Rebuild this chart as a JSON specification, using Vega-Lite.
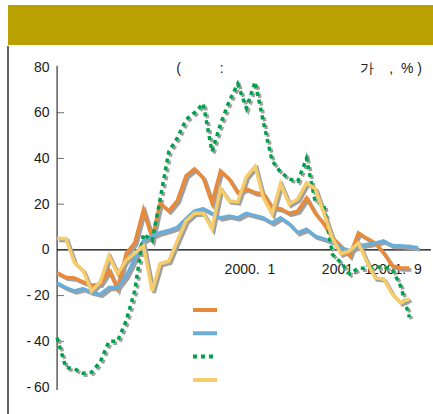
{
  "$schema": "https://vega.github.io/schema/vega-lite/v6.json",
  "background": "white",
  "padding": {"left": 7, "top": 5, "right": 0, "bottom": 0},
  "spacing": 0,
  "config": {"view": {"stroke": null}, "font": "Liberation Sans"},
  "vconcat": [
    {
      "width": 426,
      "height": 40,
      "view": {"fill": "#B8A100", "stroke": null},
      "data": {"values": [{}]},
      "mark": {"type": "text"},
      "encoding": {"text": {"value": ""}}
    },
    {
      "width": 426,
      "height": 369,
      "title": {
        "text": "(\u00a0\u00a0\u00a0\u00a0\u00a0\u00a0\u00a0\u00a0\u00a0\u00a0:\u00a0\u00a0\u00a0\u00a0\u00a0\u00a0\u00a0\u00a0\u00a0\u00a0\u00a0\u00a0\u00a0\u00a0\u00a0\u00a0\u00a0\u00a0\u00a0\u00a0\u00a0\u00a0\u00a0\u00a0\u00a0\u00a0\u00a0\u00a0\u00a0\u00a0\u00a0\u00a0\u00a0\u00a0\u00a0가\u00a0\u00a0\u00a0\u00a0,\u00a0\u00a0%\u00a0)",
        "anchor": "end",
        "frame": "group",
        "orient": "top",
        "offset": -42,
        "baseline": "alphabetic",
        "fontSize": 14,
        "fontWeight": "normal",
        "color": "#1a1a1a",
        "dx": -12
      },
      "data": {"values": [
        {"m":"1998-03-01","s":"A","v":-10},{"m":"1998-04-01","s":"A","v":-12},{"m":"1998-05-01","s":"A","v":-12.3},{"m":"1998-06-01","s":"A","v":-14},{"m":"1998-07-01","s":"A","v":-15.5},{"m":"1998-08-01","s":"A","v":-15},{"m":"1998-09-01","s":"A","v":-9},{"m":"1998-10-01","s":"A","v":-17},{"m":"1998-11-01","s":"A","v":-1.5},{"m":"1998-12-01","s":"A","v":3},
        {"m":"1999-01-01","s":"A","v":17.5},{"m":"1999-02-01","s":"A","v":5},{"m":"1999-03-01","s":"A","v":20.5},{"m":"1999-04-01","s":"A","v":17},{"m":"1999-05-01","s":"A","v":21.5},{"m":"1999-06-01","s":"A","v":32.4},{"m":"1999-07-01","s":"A","v":35.4},{"m":"1999-08-01","s":"A","v":31.5},{"m":"1999-09-01","s":"A","v":20.5},{"m":"1999-10-01","s":"A","v":34.5},{"m":"1999-11-01","s":"A","v":31},{"m":"1999-12-01","s":"A","v":25},
        {"m":"2000-01-01","s":"A","v":26.7},{"m":"2000-02-01","s":"A","v":25},{"m":"2000-03-01","s":"A","v":24.5},{"m":"2000-04-01","s":"A","v":18.4},{"m":"2000-05-01","s":"A","v":18},{"m":"2000-06-01","s":"A","v":16},{"m":"2000-07-01","s":"A","v":17},{"m":"2000-08-01","s":"A","v":22.7},{"m":"2000-09-01","s":"A","v":16},{"m":"2000-10-01","s":"A","v":11.4},{"m":"2000-11-01","s":"A","v":5.2},{"m":"2000-12-01","s":"A","v":1.75},
        {"m":"2001-01-01","s":"A","v":-2.6},{"m":"2001-02-01","s":"A","v":7.4},{"m":"2001-03-01","s":"A","v":5.2},{"m":"2001-04-01","s":"A","v":3},{"m":"2001-05-01","s":"A","v":-1.3},{"m":"2001-06-01","s":"A","v":-7},{"m":"2001-07-01","s":"A","v":-7.9},{"m":"2001-08-01","s":"A","v":-7.9},

        {"m":"1998-03-01","s":"B","v":-14.5},{"m":"1998-04-01","s":"B","v":-16.5},{"m":"1998-05-01","s":"B","v":-18},{"m":"1998-06-01","s":"B","v":-17},{"m":"1998-07-01","s":"B","v":-18.5},{"m":"1998-08-01","s":"B","v":-19.5},{"m":"1998-09-01","s":"B","v":-16.5},{"m":"1998-10-01","s":"B","v":-16.5},{"m":"1998-11-01","s":"B","v":-11.5},{"m":"1998-12-01","s":"B","v":-4},
        {"m":"1999-01-01","s":"B","v":4},{"m":"1999-02-01","s":"B","v":6},{"m":"1999-03-01","s":"B","v":7.5},{"m":"1999-04-01","s":"B","v":8.5},{"m":"1999-05-01","s":"B","v":9.8},{"m":"1999-06-01","s":"B","v":13.6},{"m":"1999-07-01","s":"B","v":17},{"m":"1999-08-01","s":"B","v":18},{"m":"1999-09-01","s":"B","v":16},{"m":"1999-10-01","s":"B","v":14},{"m":"1999-11-01","s":"B","v":14.8},{"m":"1999-12-01","s":"B","v":14},
        {"m":"2000-01-01","s":"B","v":16},{"m":"2000-02-01","s":"B","v":15},{"m":"2000-03-01","s":"B","v":14},{"m":"2000-04-01","s":"B","v":11.8},{"m":"2000-05-01","s":"B","v":14},{"m":"2000-06-01","s":"B","v":11.4},{"m":"2000-07-01","s":"B","v":7.5},{"m":"2000-08-01","s":"B","v":9},{"m":"2000-09-01","s":"B","v":6},{"m":"2000-10-01","s":"B","v":4.8},{"m":"2000-11-01","s":"B","v":3.5},{"m":"2000-12-01","s":"B","v":1},
        {"m":"2001-01-01","s":"B","v":-0.4},{"m":"2001-02-01","s":"B","v":1.75},{"m":"2001-03-01","s":"B","v":2.3},{"m":"2001-04-01","s":"B","v":3},{"m":"2001-05-01","s":"B","v":3.9},{"m":"2001-06-01","s":"B","v":1.9},{"m":"2001-07-01","s":"B","v":1.75},{"m":"2001-08-01","s":"B","v":1.5},{"m":"2001-09-01","s":"B","v":0.9},

        {"m":"1998-03-01","s":"C","v":-38.5},{"m":"1998-04-01","s":"C","v":-51.5},{"m":"1998-05-01","s":"C","v":-52},{"m":"1998-06-01","s":"C","v":-54},{"m":"1998-07-01","s":"C","v":-53.5},{"m":"1998-08-01","s":"C","v":-49},{"m":"1998-09-01","s":"C","v":-40},{"m":"1998-10-01","s":"C","v":-40},{"m":"1998-11-01","s":"C","v":-31},{"m":"1998-12-01","s":"C","v":-18},
        {"m":"1999-01-01","s":"C","v":7},{"m":"1999-02-01","s":"C","v":4},{"m":"1999-03-01","s":"C","v":22},{"m":"1999-04-01","s":"C","v":43},{"m":"1999-05-01","s":"C","v":49},{"m":"1999-06-01","s":"C","v":57},{"m":"1999-07-01","s":"C","v":60},{"m":"1999-08-01","s":"C","v":64},{"m":"1999-09-01","s":"C","v":43},{"m":"1999-10-01","s":"C","v":55},{"m":"1999-11-01","s":"C","v":65},{"m":"1999-12-01","s":"C","v":72.6},
        {"m":"2000-01-01","s":"C","v":62},{"m":"2000-02-01","s":"C","v":73.5},{"m":"2000-03-01","s":"C","v":56},{"m":"2000-04-01","s":"C","v":39},{"m":"2000-05-01","s":"C","v":34},{"m":"2000-06-01","s":"C","v":31},{"m":"2000-07-01","s":"C","v":30},{"m":"2000-08-01","s":"C","v":40},{"m":"2000-09-01","s":"C","v":21},{"m":"2000-10-01","s":"C","v":20},{"m":"2000-11-01","s":"C","v":-2},{"m":"2000-12-01","s":"C","v":-5.5},
        {"m":"2001-01-01","s":"C","v":-10.5},{"m":"2001-02-01","s":"C","v":-8},{"m":"2001-03-01","s":"C","v":-8},{"m":"2001-04-01","s":"C","v":-7.5},{"m":"2001-05-01","s":"C","v":-7.5},{"m":"2001-06-01","s":"C","v":-8.5},{"m":"2001-07-01","s":"C","v":-16},{"m":"2001-08-01","s":"C","v":-29.5},

        {"m":"1998-03-01","s":"D","v":5},{"m":"1998-04-01","s":"D","v":5},{"m":"1998-05-01","s":"D","v":-5.5},{"m":"1998-06-01","s":"D","v":-9},{"m":"1998-07-01","s":"D","v":-18},{"m":"1998-08-01","s":"D","v":-14},{"m":"1998-09-01","s":"D","v":-2.6},{"m":"1998-10-01","s":"D","v":-10.5},{"m":"1998-11-01","s":"D","v":-4.5},{"m":"1998-12-01","s":"D","v":-1.5},
        {"m":"1999-01-01","s":"D","v":1.75},{"m":"1999-02-01","s":"D","v":-18},{"m":"1999-03-01","s":"D","v":-6},{"m":"1999-04-01","s":"D","v":-5},{"m":"1999-05-01","s":"D","v":4},{"m":"1999-06-01","s":"D","v":12.7},{"m":"1999-07-01","s":"D","v":16},{"m":"1999-08-01","s":"D","v":16},{"m":"1999-09-01","s":"D","v":9.2},{"m":"1999-10-01","s":"D","v":26.7},{"m":"1999-11-01","s":"D","v":21.4},{"m":"1999-12-01","s":"D","v":21},
        {"m":"2000-01-01","s":"D","v":32},{"m":"2000-02-01","s":"D","v":36.5},{"m":"2000-03-01","s":"D","v":22.75},{"m":"2000-04-01","s":"D","v":15.75},{"m":"2000-05-01","s":"D","v":28.9},{"m":"2000-06-01","s":"D","v":20},{"m":"2000-07-01","s":"D","v":22.3},{"m":"2000-08-01","s":"D","v":29.3},{"m":"2000-09-01","s":"D","v":26.7},{"m":"2000-10-01","s":"D","v":16.2},{"m":"2000-11-01","s":"D","v":5},{"m":"2000-12-01","s":"D","v":-1.75},
        {"m":"2001-01-01","s":"D","v":-0.4},{"m":"2001-02-01","s":"D","v":3},{"m":"2001-03-01","s":"D","v":-4.8},{"m":"2001-04-01","s":"D","v":-12.3},{"m":"2001-05-01","s":"D","v":-12.7},{"m":"2001-06-01","s":"D","v":-19.3},{"m":"2001-07-01","s":"D","v":-23.2},{"m":"2001-08-01","s":"D","v":-21.4}
      ]},
      "encoding": {
        "x": {
          "field": "m", "type": "temporal",
          "scale": {"type": "utc", "nice": false, "domain": [{"year": 1997, "month": 9, "date": 8, "utc": true}, {"year": 2001, "month": 10, "date": 27, "utc": true}]},
          "axis": {
            "values": [{"year": 2000, "month": 1, "date": 1, "utc": true}, {"year": 2001, "month": 1, "date": 1, "utc": true}, {"year": 2001, "month": 9, "date": 1, "utc": true}],
            "labelExpr": "utcFormat(datum.value, '%Y') + '.\u00a0\u00a0' + (utcmonth(datum.value) + 1)",
            "offset": -165, "domain": false, "ticks": false, "grid": false, "title": null,
            "labelFlush": false, "labelOverlap": false, "labelFontSize": 14, "labelColor": "#1a1a1a", "labelPadding": 12,
            "labelAlign": {"expr": "utcmonth(datum.value) == 8 ? 'right' : 'center'"},
            "labelOffset": {"expr": "utcmonth(datum.value) == 8 ? 3 : (utcyear(datum.value) == 2000 ? 3 : -3)"}
          }
        },
        "y": {
          "field": "v", "type": "quantitative",
          "scale": {"domain": [-72.25, 89.19], "nice": false, "zero": false},
          "axis": {
            "values": [-60, -40, -20, 0, 20, 40, 60, 80],
            "offset": -49, "domain": false, "grid": false, "title": null, "ticks": false,
            "labelPadding": 8, "labelFontSize": 14, "labelColor": "#1a1a1a", "labelFlush": false,
            "labelExpr": "datum.value < 0 ? '-\u2009' + (-datum.value) : '' + datum.value"
          }
        }
      },
      "layer": [
        {
          "data": {"values": [{"m": "1997-09-08", "lo": -72.25, "hi": 89.19}]},
          "mark": {"type": "rule", "color": "#000000", "strokeWidth": 1.2},
          "encoding": {
            "y": {"field": "lo", "type": "quantitative"},
            "y2": {"field": "hi"}
          }
        },
        {
          "data": {"values": [{"m": "1998-03-01", "lo": -61.3, "hi": 80.5}]},
          "mark": {"type": "rule", "color": "#333333", "strokeWidth": 1.2},
          "encoding": {
            "y": {"field": "lo", "type": "quantitative"},
            "y2": {"field": "hi"}
          }
        },
        {
          "data": {"values": [{"m": "1998-03-01", "m2": "2001-10-16", "v": 0}]},
          "mark": {"type": "rule", "color": "#000000", "strokeWidth": 1.2},
          "encoding": {
            "x2": {"field": "m2"}
          }
        },
        {
          "data": {"values": [{"m": "1998-03-01", "v": -40}, {"m": "1998-03-01", "v": -20}, {"m": "1998-03-01", "v": 20}, {"m": "1998-03-01", "v": 40}, {"m": "1998-03-01", "v": 60}]},
          "mark": {"type": "tick", "orient": "horizontal", "color": "#333333", "size": 7, "thickness": 1, "xOffset": 3.5}
        },
        {
          "transform": [{"filter": "datum.s != 'C'"}],
          "mark": {"type": "line", "stroke": "#a0a0a0", "strokeWidth": 3.5, "xOffset": 2, "yOffset": 2},
          "encoding": {"detail": {"field": "s"}}
        },
        {
          "transform": [{"filter": "datum.s == 'C'"}],
          "mark": {"type": "line", "stroke": "#a0a0a0", "strokeWidth": 3.5, "strokeDash": [4, 4], "xOffset": 2, "yOffset": 2},
          "encoding": {}
        },
        {
          "mark": {"type": "line", "strokeWidth": 3.5},
          "encoding": {
            "color": {
              "field": "s", "type": "nominal",
              "scale": {"domain": ["A", "B", "C", "D"], "range": ["#E98A3A", "#6BADD6", "#00A14B", "#F6CD6C"]},
              "legend": {"orient": "none", "legendX": 183, "legendY": 291, "title": null, "labelExpr": "''", "symbolType": "stroke", "symbolSize": 576, "symbolStrokeWidth": 4, "rowPadding": 1.3, "padding": 0}
            },
            "strokeDash": {
              "field": "s", "type": "nominal",
              "scale": {"domain": ["A", "B", "C", "D"], "range": [[1, 0], [1, 0], [4, 4], [1, 0]]},
              "legend": {"orient": "none", "legendX": 183, "legendY": 291, "title": null, "labelExpr": "''", "symbolType": "stroke", "symbolSize": 576, "symbolStrokeWidth": 4, "rowPadding": 1.3, "padding": 0}
            }
          }
        }
      ]
    }
  ]
}
